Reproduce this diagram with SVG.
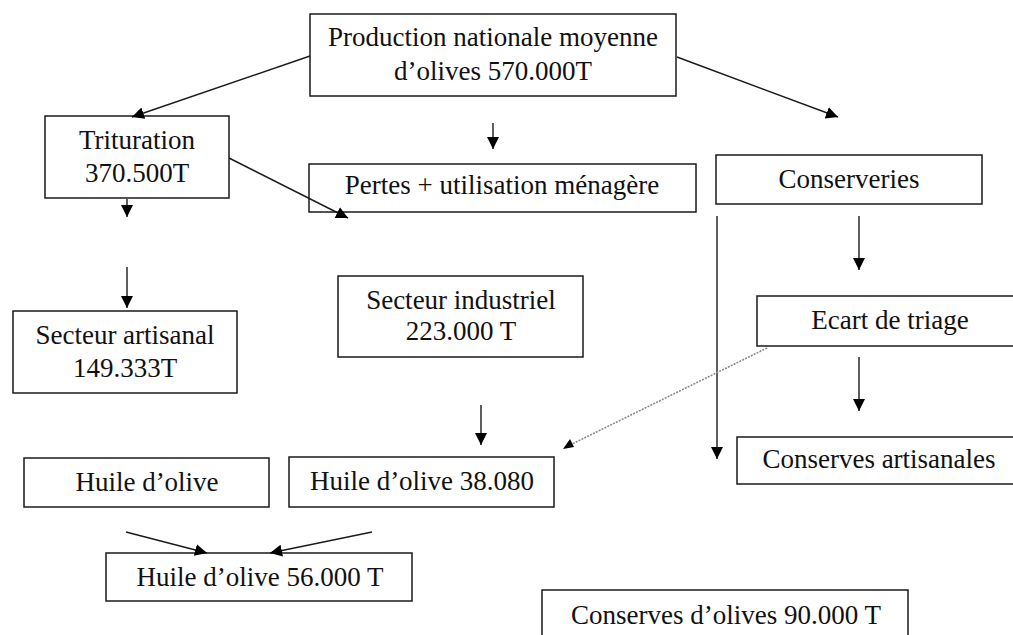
<svg xmlns="http://www.w3.org/2000/svg" width="1013" height="635" viewBox="0 0 1013 635">
<defs>
<style>
.box{fill:#fff;stroke:#1a1a1a;stroke-width:1.5}
.t{font-family:"Liberation Serif","Times New Roman",serif;font-size:27px;fill:#111;text-anchor:middle}
.c{stroke:#1a1a1a;stroke-width:1.4;fill:none}
.d{stroke:#8a8a8a;stroke-width:1.6;stroke-dasharray:2 1.2;fill:none}
</style>
<marker id="ah" viewBox="0 0 10 10" refX="10" refY="5" markerWidth="12" markerHeight="12" markerUnits="userSpaceOnUse" orient="auto">
<path d="M0,0 L10,5 L0,10 z" fill="#000"/>
</marker>
</defs>
<rect width="1013" height="635" fill="#fff"/>
<g id="production">
<rect class="box" x="310" y="14" width="366" height="82"/>
<text class="t" x="493" y="46">Production nationale moyenne</text>
<text class="t" x="493" y="80">d’olives 570.000T</text>
</g>
<g id="trituration">
<rect class="box" x="45" y="116" width="184" height="82"/>
<text class="t" x="137" y="149">Trituration</text>
<text class="t" x="137" y="182">370.500T</text>
</g>
<g id="pertes">
<rect class="box" x="309" y="164" width="387" height="48"/>
<text class="t" x="502" y="194">Pertes + utilisation ménagère</text>
</g>
<g id="conserveries">
<rect class="box" x="716" y="155" width="266" height="49"/>
<text class="t" x="849" y="188">Conserveries</text>
</g>
<g id="secteur-artisanal">
<rect class="box" x="13" y="311" width="224" height="82"/>
<text class="t" x="125" y="344">Secteur artisanal</text>
<text class="t" x="125" y="377">149.333T</text>
</g>
<g id="secteur-industriel">
<rect class="box" x="338" y="276" width="245" height="81"/>
<text class="t" x="461" y="309">Secteur industriel</text>
<text class="t" x="461" y="340">223.000 T</text>
</g>
<g id="ecart">
<rect class="box" x="757" y="296" width="266" height="50"/>
<text class="t" x="890" y="329">Ecart de triage</text>
</g>
<g id="huile-artisanale">
<rect class="box" x="24" y="458" width="245" height="49"/>
<text class="t" x="147" y="491">Huile d’olive</text>
</g>
<g id="huile-industrielle">
<rect class="box" x="289" y="457" width="265" height="50"/>
<text class="t" x="422" y="490">Huile d’olive 38.080</text>
</g>
<g id="conserves-artisanales">
<rect class="box" x="737" y="437" width="285" height="47"/>
<text class="t" x="879" y="468">Conserves artisanales</text>
</g>
<g id="huile-total">
<rect class="box" x="106" y="553" width="306" height="48"/>
<text class="t" x="260" y="586">Huile d’olive 56.000 T</text>
</g>
<g id="conserves-total">
<rect class="box" x="542" y="590" width="366" height="60"/>
<text class="t" x="726" y="624">Conserves d’olives 90.000 T</text>
</g>
<g id="connectors">
<line class="c" x1="310" y1="56" x2="132" y2="117" marker-end="url(#ah)"/>
<line class="c" x1="677" y1="57" x2="838" y2="117" marker-end="url(#ah)"/>
<line class="c" x1="493" y1="123" x2="493" y2="149" marker-end="url(#ah)"/>
<line class="c" x1="229" y1="158" x2="348" y2="218" marker-end="url(#ah)"/>
<line class="c" x1="127" y1="199" x2="127" y2="217" marker-end="url(#ah)"/>
<line class="c" x1="127" y1="267" x2="127" y2="308" marker-end="url(#ah)"/>
<line class="c" x1="859" y1="216" x2="859" y2="270" marker-end="url(#ah)"/>
<line class="c" x1="717" y1="216" x2="717" y2="459" marker-end="url(#ah)"/>
<line class="c" x1="859" y1="357" x2="859" y2="411" marker-end="url(#ah)"/>
<line class="d" x1="767" y1="348" x2="566" y2="447"/>
<path d="M563,449 L570,439 L574,447 z" fill="#000"/>
<line class="c" x1="481" y1="405" x2="481" y2="445" marker-end="url(#ah)"/>
<line class="c" x1="126" y1="532" x2="207" y2="553" marker-end="url(#ah)"/>
<line class="c" x1="372" y1="532" x2="270" y2="553" marker-end="url(#ah)"/>
</g>
</svg>
